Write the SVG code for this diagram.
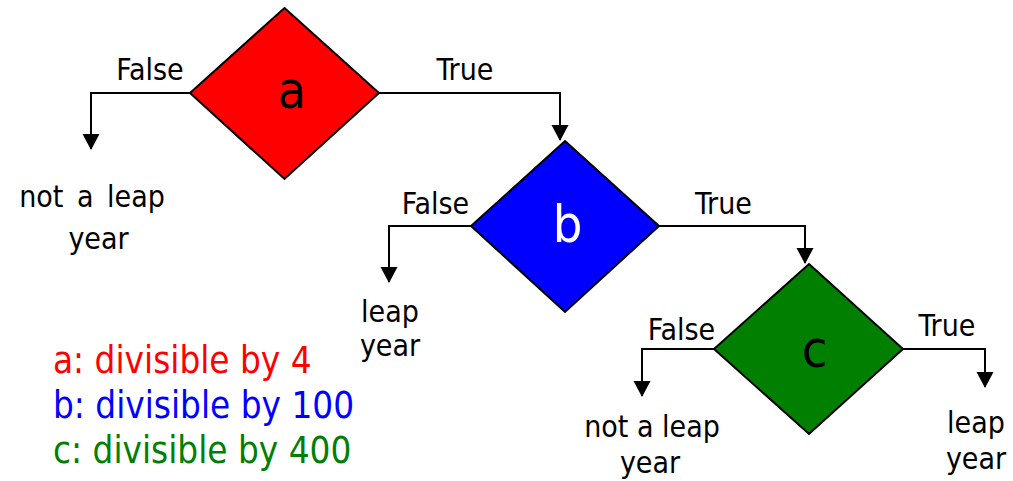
<svg xmlns="http://www.w3.org/2000/svg" width="1013" height="481" viewBox="0 0 1013 481">
<style>
text { font-family: "DejaVu Sans Condensed", "DejaVu Sans", sans-serif; font-stretch: condensed; }
.lbl { font-size: 30px; fill: #000; text-anchor: middle; }
.node { font-size: 52px; text-anchor: middle; }
.leg { font-size: 36.5px; }
.dia { stroke: #000; stroke-width: 2; }
.conn { fill: none; stroke: #000; stroke-width: 2; marker-end: url(#arrow); }
</style>
<defs>
<marker id="arrow" markerUnits="userSpaceOnUse" markerWidth="17" markerHeight="18" refX="15" refY="8.5" orient="auto" viewBox="0 0 17 18">
<path d="M0,0 L16,8.5 L0,17 Z" fill="#000"/>
</marker>
</defs>
<rect width="1013" height="481" fill="#fff"/>
<g id="connectors">
<polyline class="conn" points="190,93 91,93 91,149"/>
<polyline class="conn" points="379,93 560,93 560,140"/>
<polyline class="conn" points="471,226 389,226 389,282"/>
<polyline class="conn" points="659,226 805,226 805,263"/>
<polyline class="conn" points="714,349 642,349 642,396"/>
<polyline class="conn" points="903,349 985,349 985,387"/>
</g>
<g id="labels">
<text class="lbl" x="150" y="80">False</text>
<text class="lbl" x="465" y="80">True</text>
<text class="lbl" x="435.5" y="214">False</text>
<text class="lbl" x="723.5" y="214">True</text>
<text class="lbl" x="681.5" y="340">False</text>
<text class="lbl" x="947" y="336">True</text>
</g>
<g id="node-a">
<polygon class="dia" points="284.5,8 379,93 284.5,179 190,93" fill="#FF0000"/>
<text class="node" x="292" y="108" fill="#000">a</text>
</g>
<g id="node-b">
<polygon class="dia" points="565,141 659,226 565,312 471,226" fill="#0000FF"/>
<text class="node" x="567.5" y="242" fill="#fff">b</text>
</g>
<g id="node-c">
<polygon class="dia" points="809,264 903,349 809,434 714,349" fill="#007F00"/>
<text class="node" x="814.5" y="367" fill="#000">c</text>
</g>
<g id="out-a-false">
<text class="lbl" x="92" y="207" word-spacing="5">not a leap</text>
<text class="lbl" x="98.5" y="249">year</text>
</g>
<g id="out-b-false">
<text class="lbl" x="390" y="322">leap</text>
<text class="lbl" x="390" y="356">year</text>
</g>
<g id="out-c-false">
<text class="lbl" x="652" y="437">not a leap</text>
<text class="lbl" x="650" y="473">year</text>
</g>
<g id="out-c-true">
<text class="lbl" x="976" y="433">leap</text>
<text class="lbl" x="976" y="469">year</text>
</g>
<g id="legend">
<text class="leg" x="53" y="373" fill="#FF0000">a: divisible by 4</text>
<text class="leg" x="53" y="418" fill="#0000FF">b: divisible by 100</text>
<text class="leg" x="53" y="463" fill="#007F00">c: divisible by 400</text>
</g>
</svg>
